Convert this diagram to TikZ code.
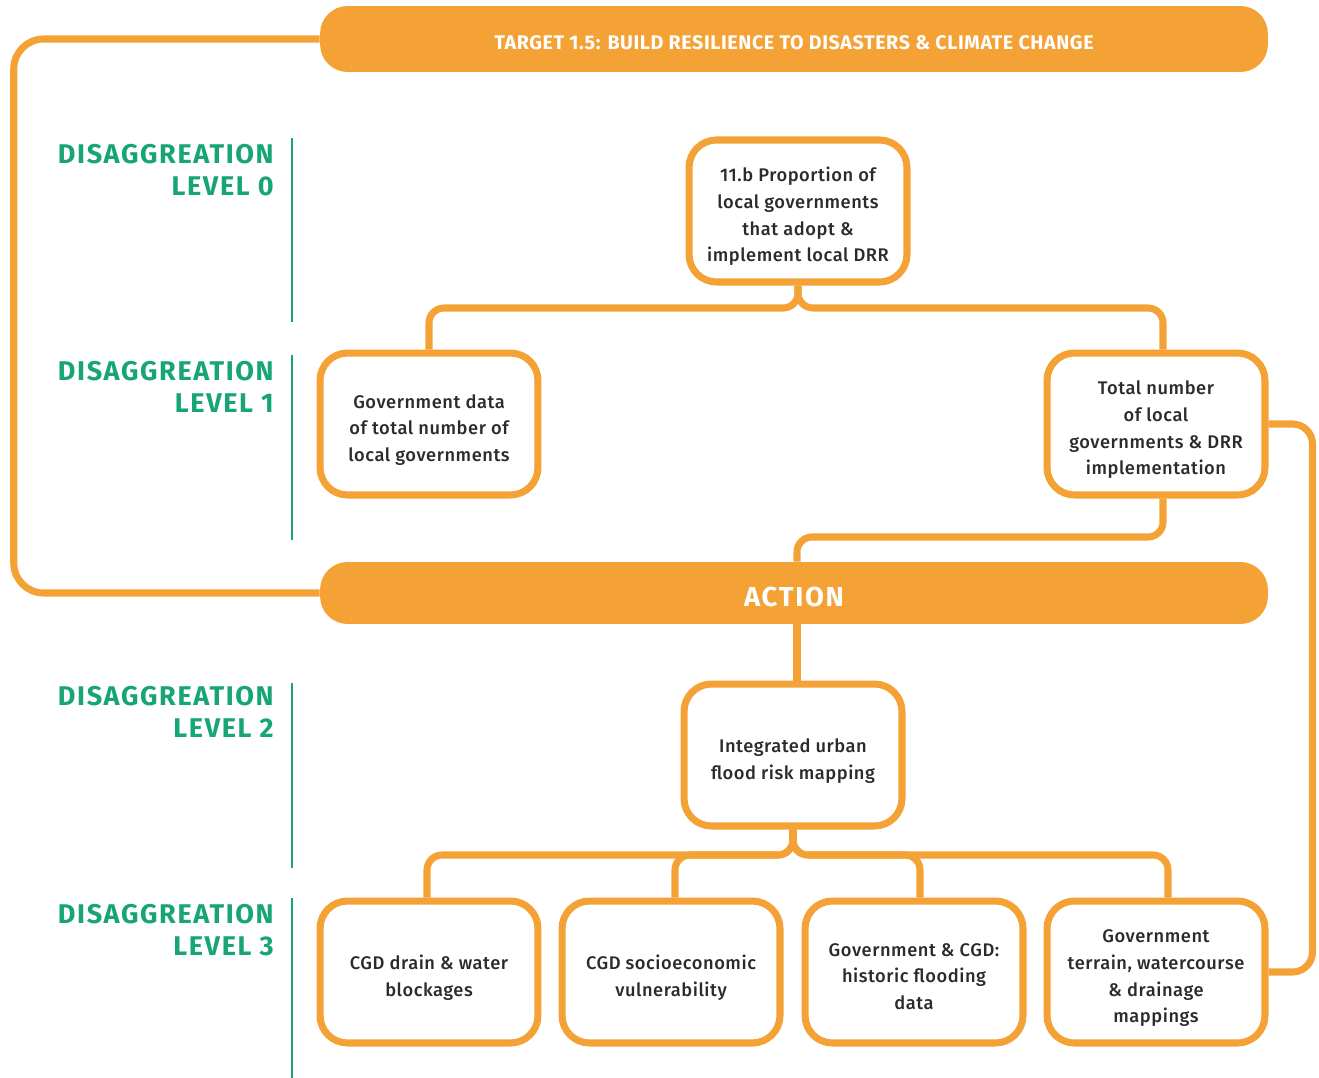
\documentclass[tikz,border=0pt]{standalone}
\usepackage{fontspec}
\setmainfont{Fira Sans}
\newfontfamily\boxfont[LetterSpace=3, UprightFont=* Medium]{Fira Sans}
\newfontfamily\levelfont[LetterSpace=6]{Fira Sans}
\newfontfamily\barfont[LetterSpace=3]{Fira Sans}
\usetikzlibrary{calc}
\definecolor{drrorange}{HTML}{F4A236}
\definecolor{drrgreen}{HTML}{17A673}
\definecolor{drrtext}{HTML}{2B2B2B}
% box text sits a little below the middle
\newcommand{\boxtext}[1]{\raisebox{-3.1pt}[\height][\depth]{\begin{tabular}{@{}c@{}}#1\end{tabular}}}
\tikzset{
	item/.style={draw=drrorange, line width=4pt, fill=white, rounded corners=0.55cm, minimum width=4.36cm, minimum height=2.84cm, text=drrtext, font=\boxfont\fontsize{10.4}{15.1}\selectfont}, % white boxes
	bar/.style={fill=drrorange, rounded corners=0.55cm, minimum width=18.96cm, text=white, font=\bfseries},
	link/.style={draw=drrorange, line width=4pt, rounded corners=0.3cm},
	levelbar/.style={draw=drrgreen, line width=1.2pt},
	level/.style={anchor=east, align=right, text=drrgreen, inner sep=0pt, font=\levelfont\bfseries\fontsize{15.4}{17.8}\selectfont},
}

\begin{document}
\begin{tikzpicture}[x=0.02cm,y=-0.02cm]
	\useasboundingbox (0,0) rectangle (1319,1078);

	% y levels of the forks
	\def\forkA{308}
	\def\forkB{537}
	\def\forkC{855}
	\coordinate (forkA) at (0,\forkA);
	\coordinate (forkB) at (0,\forkB);
	\coordinate (forkC) at (0,\forkC);

	% orange bars
	\node[bar, minimum height=1.32cm, font=\barfont\bfseries\fontsize{11.2}{12}\selectfont] (banner) at (794,39) {\raisebox{-2.2pt}[\height][\depth]{TARGET 1.5: BUILD RESILIENCE TO DISASTERS \& CLIMATE CHANGE}};
	\node[bar, minimum height=1.24cm, font=\levelfont\bfseries\fontsize{15.6}{16}\selectfont] (action) at (794,593) {\raisebox{-2.4pt}[\height][\depth]{ACTION}};

	% boxes
	\node[item] (l0) at (798,211) {\boxtext{11.b Proportion of\\local governments\\that adopt \&\\implement local DRR}};
	\node[item] (l1a) at (429,424) {\boxtext{Government data\\of total number of\\local governments}};
	\node[item] (l1b) at (1156,424) {\boxtext{Total number\\of local\\governments \& DRR\\implementation}};
	\node[item] (l2) at (793,755) {\boxtext{Integrated urban\\flood risk mapping}};
	\node[item] (l3a) at (429,972) {\boxtext{CGD drain \& water\\blockages}};
	\node[item] (l3b) at (671,972) {\boxtext{CGD socioeconomic\\vulnerability}};
	\node[item] (l3c) at (914,972) {\boxtext{Government \& CGD:\\historic flooding\\data}};
	\node[item] (l3d) at (1156,972) {\boxtext{Government\\terrain, watercourse\\\& drainage\\mappings}};

	% connectors
	\draw[link, rounded corners=0.6cm] (banner.west) -- ++(-306,0) |- (action.west);
	\draw[link] (l0.south) |- (l1a.north |- forkA) -- (l1a.north);
	\draw[link] (l0.south) |- ([xshift=0.14cm]l1b.north |- forkA) -- ([xshift=0.14cm]l1b.north);
	\draw[link] ([xshift=0.14cm]l1b.south) |- ([xshift=0.06cm]action.north |- forkB) -- ([xshift=0.06cm]action.north);
	\draw[link, rounded corners=0.4cm] (l1b.east) -- ++(44,0) |- (l3d.east);
	\draw[link] ([xshift=0.06cm]action.south) -- ([xshift=0.06cm]action.south |- l2.north);
	\foreach \t/\dx in {l3a/-0.04cm,l3b/0.08cm,l3c/0.12cm,l3d/0.24cm}
		\draw[link] (l2.south) |- ([xshift=\dx]\t.north |- forkC) -- ([xshift=\dx]\t.north);

	% disaggregation levels
	\node[level] (lev0) at (274,170) {DISAGGREATION\\LEVEL 0};
	\node[level] (lev1) at (274,387) {DISAGGREATION\\LEVEL 1};
	\node[level] (lev2) at (274,712) {DISAGGREATION\\LEVEL 2};
	\node[level] (lev3) at (274,930) {DISAGGREATION\\LEVEL 3};
	\draw[levelbar] (292,138) -- (292,322);
	\draw[levelbar] (292,355) -- (292,540);
	\draw[levelbar] (292,683) -- (292,868);
	\draw[levelbar] (292,898) -- (292,1078);
\end{tikzpicture}
\end{document}
